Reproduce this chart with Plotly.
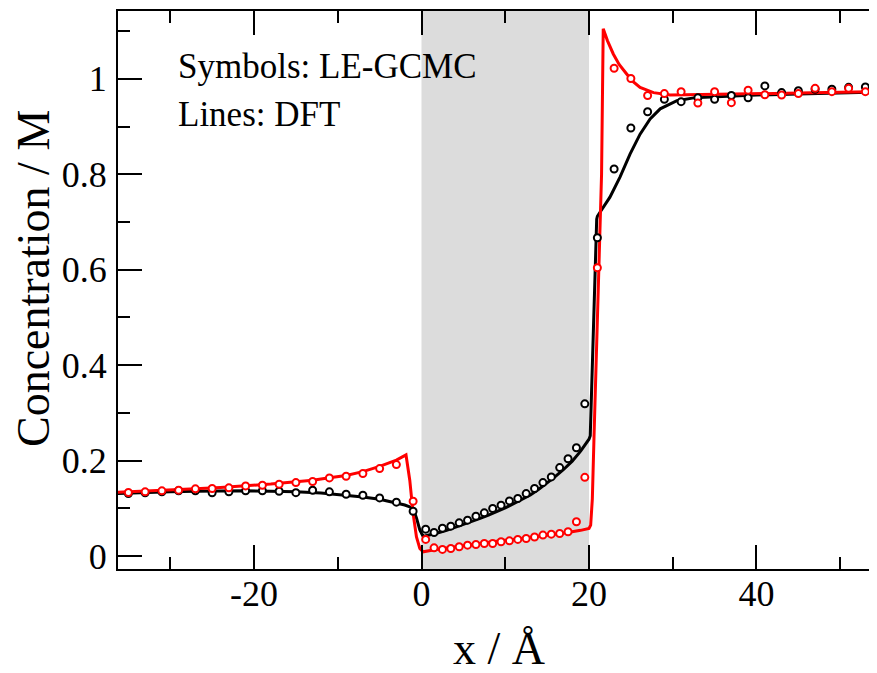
import plotly.graph_objects as go

# ---------------- data ----------------
# LE-GCMC symbols (x in Angstrom, concentration in M)
sym_x = [-35, -33, -31, -29, -27, -25, -23, -21, -19, -17, -15, -13, -11, -9, -7, -5, -3, -1,
         0.5, 1.5, 2.5, 3.5, 4.5, 5.5, 6.5, 7.5, 8.5, 9.5, 10.5, 11.5, 12.5, 13.5, 14.5, 15.5,
         16.5, 17.5, 18.5, 19.5,
         21, 23, 25, 27, 29, 31, 33, 35, 37, 39, 41, 43, 45, 47, 49, 51, 53]

sym_black = [0.131, 0.1325, 0.1346, 0.137, 0.137, 0.1325, 0.1346, 0.137, 0.137, 0.136, 0.133,
             0.138, 0.1346, 0.1297, 0.1276, 0.122, 0.113, 0.094,
             0.0565, 0.0495, 0.0586, 0.0628, 0.0697, 0.0753, 0.0837, 0.0907, 0.0997, 0.1067,
             0.1157, 0.1206, 0.131, 0.1416, 0.154, 0.166, 0.1855, 0.204, 0.227, 0.319,
             0.667, 0.811, 0.897, 0.931, 0.957, 0.952, 0.960, 0.957, 0.965, 0.960, 0.985,
             0.971, 0.975, 0.978, 0.978, 0.982, 0.983]

sym_red = [0.1332, 0.1346, 0.1367, 0.1381, 0.1409, 0.1416, 0.1430, 0.1471, 0.1485, 0.1506,
           0.1541, 0.1562, 0.1639, 0.1674, 0.1730, 0.1834, 0.1918, 0.115,
           0.035, 0.0174, 0.014, 0.016, 0.0195, 0.023, 0.0244, 0.0265, 0.0265, 0.030, 0.032,
           0.035, 0.037, 0.040, 0.044, 0.046, 0.0474, 0.051, 0.072, 0.165,
           0.604, 1.022, 1.0006, 0.965, 0.969, 0.973, 0.949, 0.973, 0.950, 0.976, 0.9665,
           0.966, 0.969, 0.980, 0.973, 0.980, 0.973]

# DFT lines
dft_black_x = [-36.3, -33, -30, -27, -24, -21, -18, -15, -12, -9, -7, -5, -3, -2, -1.4, -1.0,
               -0.6, -0.2, 0.2, 1, 2, 3, 4, 5, 6, 7, 8, 9, 10, 11, 12, 13, 14, 15, 16, 17, 18,
               19, 20.0, 20.15, 20.5, 20.8, 20.92, 21.0, 21.7, 22.5, 23.7, 24.9, 26.1, 27.3,
               28.5, 30.5, 32.5, 36, 40, 45, 50, 54.5]
dft_black_y = [0.131, 0.1335, 0.135, 0.136, 0.137, 0.137, 0.136, 0.135, 0.132, 0.128, 0.124,
               0.119, 0.112, 0.107, 0.103, 0.100, 0.080, 0.055, 0.041, 0.044, 0.049, 0.054,
               0.060, 0.066, 0.072, 0.079, 0.086, 0.093, 0.101, 0.110, 0.119, 0.128, 0.140,
               0.153, 0.167, 0.182, 0.199, 0.220, 0.245, 0.252, 0.47, 0.64, 0.706, 0.712, 0.730,
               0.752, 0.794, 0.842, 0.884, 0.916, 0.937, 0.954, 0.960, 0.963, 0.966, 0.968,
               0.970, 0.972]

dft_red_x = [-36.3, -33, -30, -27, -24, -21, -18, -15, -13, -11, -9, -7, -5, -3, -1.85, -1.4,
             -1.0, -0.6, -0.2, 0.2, 1.4, 3.4, 5.4, 7.4, 9.4, 11.4, 13.4, 15.4, 17.3, 19.0, 20.0,
             20.2, 20.4, 20.6, 20.9, 21.2, 21.5, 21.7, 22.2, 22.9, 23.6, 24.5, 25.2, 26.1,
             27.7, 29.7, 35, 40, 45, 50, 54.5]
dft_red_y = [0.134, 0.136, 0.138, 0.141, 0.144, 0.147, 0.151, 0.156, 0.159, 0.164, 0.169,
             0.177, 0.188, 0.201, 0.212, 0.159, 0.089, 0.040, 0.016, 0.009, 0.013, 0.018,
             0.023, 0.027, 0.032, 0.036, 0.040, 0.045, 0.049, 0.054, 0.058, 0.065, 0.12,
             0.25, 0.42, 0.60, 0.80, 1.105, 1.08, 1.052, 1.03, 1.01, 0.995, 0.982, 0.971,
             0.966, 0.967, 0.968, 0.970, 0.972, 0.973]

pore_x = [0, 20]  # shaded pore region

x_ticks = [-20, 0, 20, 40]
x_ticktext = ["-20", "0", "20", "40"]
y_ticks = [0, 0.2, 0.4, 0.6, 0.8, 1.0]
y_ticktext = ["0", "0.2", "0.4", "0.6", "0.8", "1"]

x_range = [-36.24, 54.39]
y_range = [-0.027, 1.142]

FONT = "Liberation Serif, Times New Roman, serif"

fig = go.Figure()

fig.add_trace(go.Scatter(x=dft_black_x, y=dft_black_y, mode="lines",
                         line=dict(color="black", width=3), showlegend=False, hoverinfo="skip"))
fig.add_trace(go.Scatter(x=dft_red_x, y=dft_red_y, mode="lines",
                         line=dict(color="#ff0000", width=3), showlegend=False, hoverinfo="skip"))
fig.add_trace(go.Scatter(x=sym_x, y=sym_black, mode="markers",
                         marker=dict(symbol="circle", size=7, color="white",
                                     line=dict(color="black", width=2)),
                         showlegend=False))
fig.add_trace(go.Scatter(x=sym_x, y=sym_red, mode="markers",
                         marker=dict(symbol="circle", size=7, color="white",
                                     line=dict(color="#ff0000", width=2)),
                         showlegend=False))

fig.add_shape(type="rect", xref="x", yref="paper", x0=pore_x[0], x1=pore_x[1], y0=0, y1=1,
              fillcolor="#dcdcdc", line=dict(width=0), layer="below")

# The page body adds an 8px offset; the figure is sized to fill the rest of the window.
fig.update_layout(
    width=869, height=665,
    margin=dict(l=110, r=0, t=3, b=104, autoexpand=False),
    paper_bgcolor="white", plot_bgcolor="white",
    font=dict(family=FONT, size=36, color="black"),
    xaxis=dict(range=x_range, showgrid=False, zeroline=False, automargin=False,
               showline=True, linecolor="black", linewidth=2, mirror="ticks",
               ticks="inside", ticklen=24, tickwidth=2, tickcolor="black",
               tickvals=x_ticks, ticktext=x_ticktext,
               tickfont=dict(family=FONT, size=36),
               ticklabelstandoff=-8,
               minor=dict(ticks="inside", ticklen=12, tickwidth=2, tickcolor="black",
                          dtick=10, tick0=0, showgrid=False)),
    yaxis=dict(range=y_range, showgrid=False, zeroline=False, automargin=False,
               showline=True, linecolor="black", linewidth=2, mirror=False,
               ticks="inside", ticklen=24, tickwidth=2, tickcolor="black",
               tickvals=y_ticks, ticktext=y_ticktext,
               tickfont=dict(family=FONT, size=36),
               ticklabelstandoff=2,
               minor=dict(ticks="inside", ticklen=12, tickwidth=2, tickcolor="black",
                          dtick=0.1, tick0=0, showgrid=False)),
    yaxis2=dict(range=y_range, overlaying="y", side="right", showgrid=False, zeroline=False,
                automargin=False,
                showline=False, ticks="inside", ticklen=21, tickwidth=2, tickcolor="black",
                tickvals=y_ticks, showticklabels=False,
                minor=dict(ticks="inside", ticklen=10, tickwidth=2, tickcolor="black",
                           dtick=0.1, tick0=0, showgrid=False)),
    annotations=[
        dict(text="Concentration / M", xref="paper", yref="paper", x=-0.112, y=0.5215,
             textangle=-90, showarrow=False, xanchor="center", yanchor="middle",
             font=dict(family=FONT, size=46)),
        dict(text="x / Å", xref="paper", yref="paper", x=0.502, y=-0.1416,
             showarrow=False, xanchor="center", yanchor="middle",
             font=dict(family=FONT, size=46)),
        dict(text="Symbols: LE-GCMC", xref="paper", yref="paper", x=0.077, y=0.901,
             showarrow=False, xanchor="left", yanchor="middle",
             font=dict(family=FONT, size=35)),
        dict(text="Lines: DFT", xref="paper", yref="paper", x=0.077, y=0.815,
             showarrow=False, xanchor="left", yanchor="middle",
             font=dict(family=FONT, size=35)),
    ],
)

fig.write_html("out.html")
